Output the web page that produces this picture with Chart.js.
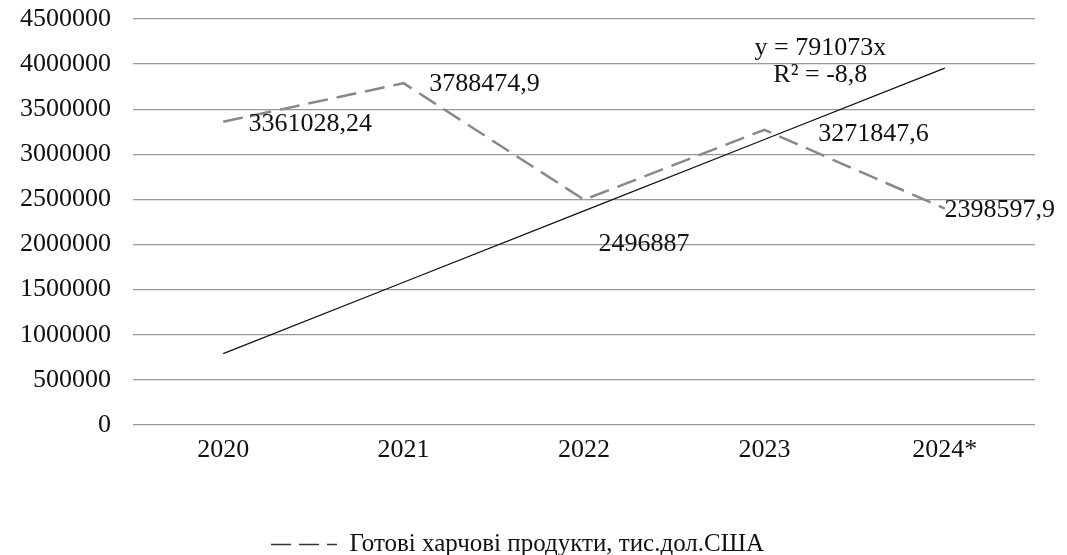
<!DOCTYPE html>
<html><head><meta charset="utf-8">
<script src="https://cdn.jsdelivr.net/npm/chart.js@4"></script>
<style>html,body{margin:0;padding:0;background:#fff;}#wrap{width:1067px;height:555px;}</style>
</head><body><div id="wrap"><canvas id="c" width="1067" height="555"></canvas></div>
<script>
const categories = ['2020', '2021', '2022', '2023', '2024*'];
const productValues = [3361028.24, 3788474.9, 2496887, 3271847.6, 2398597.9];
const trendSlope = 791073;
const trendR2 = '-8,8';
const seriesName = 'Готові харчові продукти, тис.дол.США';
const yTicks = [0, 500000, 1000000, 1500000, 2000000, 2500000, 3000000, 3500000, 4000000, 4500000];
const trendValues = categories.map((c, i) => trendSlope * (i + 1));

const FONT = '"Liberation Serif", "DejaVu Serif", serif';
const labelOffsets = [[87, 2], [81, 1], [60, 44], [109, 4], [55, 2]];

const labelPlugin = {
  id: 'labels',
  afterDatasetsDraw(chart) {
    const ctx = chart.ctx;
    const meta = chart.getDatasetMeta(0);
    ctx.save();
    ctx.font = '26px ' + FONT;
    ctx.fillStyle = '#111';
    ctx.textAlign = 'center';
    ctx.textBaseline = 'middle';
    meta.data.forEach((pt, i) => {
      const t = String(productValues[i]).replace('.', ',');
      ctx.fillText(t, pt.x + labelOffsets[i][0], pt.y + labelOffsets[i][1]);
    });
    const xs = chart.scales.x, ys = chart.scales.y;
    const tx = xs.getPixelForValue(3.31);
    const ty = ys.getPixelForValue(4177778);
    ctx.fillText('y = ' + trendSlope + 'x', tx, ty);
    ctx.fillText('R² = ' + trendR2, tx, ty + 27);
    ctx.restore();
  }
};

new Chart(document.getElementById('c'), {
  type: 'line',
  data: {
    labels: categories,
    datasets: [
      { label: seriesName, data: productValues, borderColor: '#888', borderWidth: 2.5,
        borderDash: [20, 9], pointRadius: 0, fill: false, tension: 0, backgroundColor: 'transparent' },
      { label: 'trend', data: trendValues, borderColor: '#111', borderWidth: 1.3,
        pointRadius: 0, fill: false, tension: 0 }
    ]
  },
  options: {
    responsive: false,
    animation: false,
    devicePixelRatio: 1,
    layout: { padding: { top: 19, right: 32, left: 0, bottom: -12 } },
    plugins: {
      tooltip: { enabled: false },
      legend: {
        position: 'bottom',
        labels: {
          generateLabels(chart) {
            const items = Chart.defaults.plugins.legend.labels.generateLabels(chart);
            return items.filter(it => it.datasetIndex === 0).map(it => Object.assign(it, {
              strokeStyle: '#333', lineWidth: 1.6, lineDash: [20, 8], fillStyle: 'transparent'
            }));
          },
          boxWidth: 66, boxHeight: 0, color: '#111',
          font: { family: FONT, size: 25, lineHeight: 1 }, padding: 0
        }
      }
    },
    scales: {
      x: {
        offset: true,
        grid: { display: false, drawTicks: false },
        border: { display: false },
        ticks: { color: '#111', font: { family: FONT, size: 26 }, padding: 10 },
        afterFit(s) { s.height = 107; }
      },
      y: {
        min: 0, max: 4500000,
        afterBuildTicks(s) { s.ticks = yTicks.map(v => ({ value: v })); },
        grid: { color: '#999', lineWidth: 1.3, drawTicks: false },
        border: { display: false },
        ticks: { color: '#111', font: { family: FONT, size: 26 }, padding: 22,
          callback: (v) => String(v) },
        afterFit(s) { s.width = 133; s.paddingTop = 0; s.paddingBottom = 0; }
      }
    }
  },
  plugins: [labelPlugin]
});
</script></body></html>
